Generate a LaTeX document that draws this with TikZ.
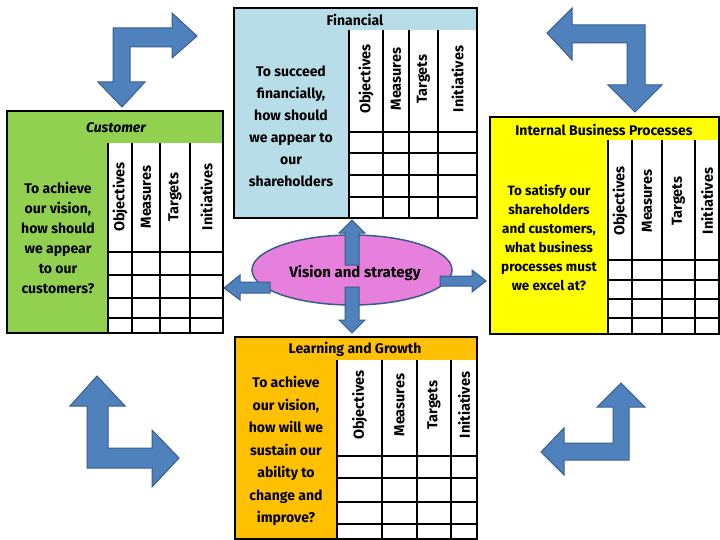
\documentclass[tikz,border=0pt]{standalone}
\usepackage{fontspec}
\setmainfont{Fira Sans}
\usetikzlibrary{arrows.meta}
\definecolor{fin}{HTML}{B7DDE8}
\definecolor{cus}{HTML}{92D050}
\definecolor{ibp}{HTML}{FFFF00}
\definecolor{lng}{HTML}{FFC000}
\definecolor{arr}{HTML}{4F81BD}
\definecolor{arrd}{HTML}{385D8A}
\definecolor{ell}{HTML}{E680DC}
\begin{document}
\begin{tikzpicture}[x=1pt,y=-1pt,
  card/.style={draw=black,line width=1.2pt},
  grid/.style={draw=black,line width=1.2pt},
  ttl/.style={font=\bfseries\fontsize{14}{16}\selectfont},
  q/.style={font=\bfseries\fontsize{14}{21}\selectfont,align=center},
  hd/.style={rotate=90,font=\bfseries\fontsize{14.5}{16}\selectfont},
  barrow/.style={fill=arr,draw=arrd,line width=1pt,line join=miter}]
\useasboundingbox (0,0) rectangle (720,540);
% corner arrows
\path[barrow] (113,28)--(172,28)--(172,13)--(197,36)--(172,58)--(172,47)--(130,47)--(130,82)--(145,82)--(122,107)--(98,82)--(113,82)--cycle;
\path[barrow] (645,25)--(572,25)--(572,8)--(547,33)--(572,60)--(572,43)--(627,43)--(627,85)--(608,85)--(635,112)--(662,85)--(645,85)--cycle;
\path[barrow] (87,468)--(87,406)--(70,406)--(97,376)--(125,406)--(108,406)--(108,448)--(152,448)--(152,430)--(179,458)--(152,487)--(152,468)--cycle;
\path[barrow] (629,460)--(629,407)--(645,407)--(621,383)--(597,407)--(613,407)--(613,443)--(564,443)--(564,428)--(541,452)--(564,475)--(564,460)--cycle;
% Financial
\fill[fin] (234,8) rectangle (477,30);
\fill[fin] (234,30) rectangle (349,218);
\draw[grid] (349,30)--(349,218) (383,30)--(383,218) (409,30)--(409,218) (438,30)--(438,218)
  (349,132)--(477,132) (349,153)--(477,153) (349,175)--(477,175) (349,197)--(477,197);
\draw[card] (234,8) rectangle (477,218);
\node[ttl] (fint) at (355,20) {Financial};
\node[q,font=\bfseries\fontsize{14}{22}\selectfont] (finq) at (291,126) {To succeed\\financially,\\how should\\we appear to\\our\\shareholders};
\node[hd] (f1) at (366,79) {Objectives};
\node[hd] (f2) at (396,79) {Measures};
\node[hd] (f3) at (423.5,79) {Targets};
\node[hd] (f4) at (457.5,79) {Initiatives};
% Customer
\fill[cus] (7,111) rectangle (223,143);
\fill[cus] (7,143) rectangle (108,333);
\draw[grid] (108,143)--(108,333) (132,143)--(132,333) (160,143)--(160,333) (190,143)--(190,333)
  (108,252)--(223,252) (108,275)--(223,275) (108,298)--(223,298) (108,318)--(223,318);
\draw[card] (7,111) rectangle (223,333);
\node[font=\bfseries\itshape\fontsize{14}{16}\selectfont] (cust) at (116,128) {Customer};
\node[q,font=\bfseries\fontsize{14}{20}\selectfont] (cusq) at (58,238) {To achieve\\our vision,\\how should\\we appear\\to our\\customers?};
\node[hd] (c1) at (120,197) {Objectives};
\node[hd] (c2) at (146,197) {Measures};
\node[hd] (c3) at (175,197) {Targets};
\node[hd] (c4) at (206.5,197) {Initiatives};
% Internal
\fill[ibp] (490,117) rectangle (719,140);
\fill[ibp] (490,140) rectangle (608,334);
\draw[grid] (608,140)--(608,334) (632,140)--(632,334) (662,140)--(662,334) (695,140)--(695,334)
  (608,260)--(719,260) (608,280)--(719,280) (608,299)--(719,299) (608,318)--(719,318);
\draw[card] (490,117) rectangle (719,334);
\node[ttl] (ibpt) at (604,130) {Internal Business Processes};
\node[q,font=\bfseries\fontsize{13.5}{19}\selectfont] (ibpq) at (549,238) {To satisfy our\\shareholders\\and customers,\\what business\\processes must\\we excel at?};
\node[hd] (i1) at (620,201) {Objectives};
\node[hd] (i2) at (647,201) {Measures};
\node[hd] (i3) at (678.5,201) {Targets};
\node[hd] (i4) at (707,201) {Initiatives};
% Learning
\fill[lng] (235,337) rectangle (477,360);
\fill[lng] (235,360) rectangle (337,539);
\draw[grid] (337,360)--(337,539) (382,360)--(382,539) (417,360)--(417,539) (451,360)--(451,539)
  (337,456)--(477,456) (337,478)--(477,478) (337,502)--(477,502) (337,524)--(477,524);
\draw[card] (235,337) rectangle (477,539);
\node[ttl] (lngt) at (355,349) {Learning and Growth};
\node[q,font=\bfseries\fontsize{14}{22.5}\selectfont] (lngq) at (286,451) {To achieve\\our vision,\\how will we\\sustain our\\ability to\\change and\\improve?};
\node[hd] (l1) at (359.5,405) {Objectives};
\node[hd] (l2) at (399.5,405) {Measures};
\node[hd] (l3) at (434,405) {Targets};
\node[hd] (l4) at (464,405) {Initiatives};
% Vision ellipse
\draw[fill=ell,draw=arrd,line width=1.5pt] (352,270) ellipse [x radius=100,y radius=35];
\node[font=\bfseries\fontsize{15}{17}\selectfont] (vis) at (355,273) {Vision and strategy};
% ellipse arrows
\path[barrow] (345,265)--(345,233)--(339,233)--(352,220)--(365,233)--(359,233)--(359,265)--cycle;
\path[barrow] (345,287)--(345,320)--(339,320)--(352,333)--(365,320)--(359,320)--(359,287)--cycle;
\path[barrow] (270,282)--(240,282)--(240,275)--(224,288)--(240,300)--(240,293)--(270,293)--cycle;
\path[barrow] (440,276)--(472,276)--(472,270)--(486,281)--(472,292)--(472,286)--(440,286)--cycle;
\end{tikzpicture}
\end{document}
